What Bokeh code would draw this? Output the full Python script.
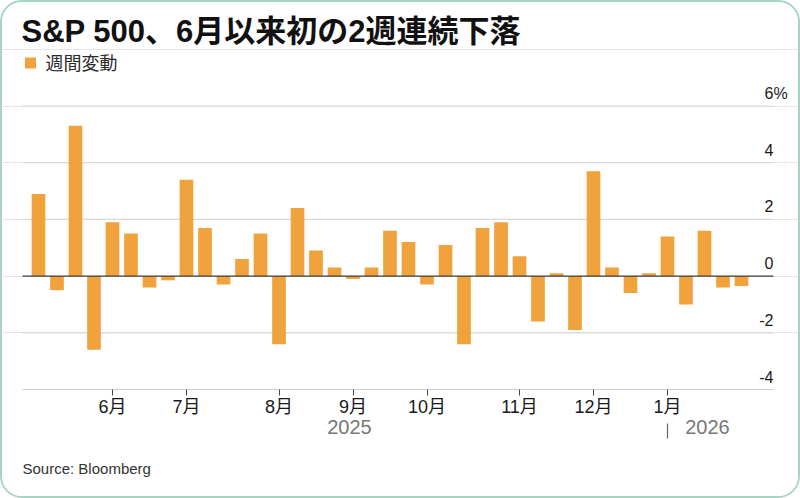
from bokeh.plotting import figure
from bokeh.models import ColumnDataSource, Range1d, FixedTicker, LinearAxis, Title
from bokeh.core.properties import value
from bokeh.embed import file_html
from bokeh.resources import INLINE

# Weekly S&P 500 change (%), weeks ending on Fridays
weeks = [
    "2025-05-02", "2025-05-09", "2025-05-16", "2025-05-23", "2025-05-30",
    "2025-06-06", "2025-06-13", "2025-06-20", "2025-06-27", "2025-07-03",
    "2025-07-11", "2025-07-18", "2025-07-25", "2025-08-01", "2025-08-08",
    "2025-08-15", "2025-08-22", "2025-08-29", "2025-09-05", "2025-09-12",
    "2025-09-19", "2025-09-26", "2025-10-03", "2025-10-10", "2025-10-17",
    "2025-10-24", "2025-10-31", "2025-11-07", "2025-11-14", "2025-11-21",
    "2025-11-28", "2025-12-05", "2025-12-12", "2025-12-19", "2025-12-26",
    "2026-01-02", "2026-01-09", "2026-01-16", "2026-01-23",
]
changes = [
    2.9, -0.5, 5.3, -2.6, 1.9,
    1.5, -0.4, -0.15, 3.4, 1.7,
    -0.3, 0.6, 1.5, -2.4, 2.4,
    0.9, 0.3, -0.1, 0.3, 1.6,
    1.2, -0.3, 1.1, -2.4, 1.7,
    1.9, 0.7, -1.6, 0.1, -1.9,
    3.7, 0.3, -0.6, 0.1, 1.4,
    -1.0, 1.6, -0.4, -0.35,
]

# Month ticks sit on these weeks
month_tick_weeks = ["2025-05-30", "2025-06-27", "2025-08-01", "2025-08-29",
                    "2025-09-26", "2025-10-31", "2025-11-28", "2025-12-26"]
month_labels = ["6月", "7月", "8月", "9月", "10月", "11月", "12月", "1月"]
year_labels = ["2025", "2026"]
year_break_week = "2025-12-26"

y_ticks = [-4, -2, 0, 2, 4, 6]
y_tick_labels = ["-4", "-2", "0", "2", "4", "6"]

title_text = "S&P 500、6月以来初の2週連続下落"
legend_text = "週間変動"
source_text = "Source: Bloomberg"

BAR = "#f0a33c"
FONT = "Liberation Sans, Noto Sans CJK JP"
GRID = "#d9d9d9"

# ---- layout, in page pixels ----
OFF = 2                       # canvas sits inside a 2px rounded border
CW, CH = 800, 498             # canvas size
PL, PR = 22, 773              # left / right ends of the plotting area
FT, FB = OFF, 389             # frame top / bottom (frame spans full width)
STEP = 18.5                   # pixels per week
FIRST = 38                    # centre of the first bar
PX_PER_PCT = 28.35

x_start = (OFF - FIRST) / STEP
x_end = (OFF + CW - FIRST) / STEP
y_start = -4
y_end = y_start + (FB - FT) / PX_PER_PCT


def dx(px):
    return x_start + (px - OFF) / STEP


def dy(py):
    return y_start + (FB - py) / PX_PER_PCT


idx = list(range(len(weeks)))
src = ColumnDataSource(dict(x=idx, week=weeks, change=changes))

p = figure(
    width=CW - 2 * OFF, height=CH - 2 * OFF,
    x_range=Range1d(x_start, x_end), y_range=Range1d(y_start, y_end),
    output_backend="svg", toolbar_location=None,
    y_axis_location=None,
    min_border_left=0, min_border_right=0, min_border_top=0,
    min_border_bottom=OFF + CH - FB,
    background_fill_color="white", border_fill_color="white",
    outline_line_color=None,
    styles={"border": f"{OFF}px solid #a6d5c3", "border-radius": "22px",
            "overflow": "hidden", "box-sizing": "content-box"},
)
p.xgrid.visible = False

# horizontal grid lines across the plotting area
grid_levels = [t for t in y_ticks if t != 0]
p.segment(x0=[dx(PL)] * len(grid_levels), x1=[dx(PR)] * len(grid_levels),
          y0=grid_levels, y1=grid_levels, line_color=GRID, line_width=1.2)

p.vbar(x="x", top="change", bottom=0, width=0.74, source=src,
       fill_color=BAR, line_color=None)

# zero line
p.segment(x0=[dx(PL)], x1=[dx(PR)], y0=[0], y1=[0], line_color="#3a3a3a", line_width=1.2)

# y tick labels, right aligned just above each grid line
LBL_UP = 13 / PX_PER_PCT
p.text(x=[dx(PR)] * len(y_ticks), y=[t + LBL_UP for t in y_ticks],
       text=y_tick_labels, text_align="right", text_baseline="alphabetic",
       text_font=value(FONT), text_font_size="16px", text_color="#1a1a1a")
p.text(x=[dx(PR)], y=[6 + LBL_UP], text=["%"], text_align="left",
       text_baseline="alphabetic", text_font=value(FONT), text_font_size="16px",
       text_color="#1a1a1a")

# title and legend
p.text(x=[dx(21)], y=[dy(31)], text=[title_text], text_align="left",
       text_baseline="middle", text_font=value(FONT), text_font_size="31px",
       text_font_style="bold", text_color="#111111")
p.scatter(x=[dx(30)], y=[dy(62.5)], marker="square", size=11,
          fill_color=BAR, line_color=None)
p.text(x=[dx(45)], y=[dy(63)], text=[legend_text], text_align="left",
       text_baseline="middle", text_font=value(FONT), text_font_size="18px",
       text_color="#2a2a2a")

# x axis: month ticks
tick_pos = [weeks.index(w) for w in month_tick_weeks]
ax = p.xaxis[0]
ax.ticker = FixedTicker(ticks=tick_pos)
ax.major_label_overrides = {t: lab for t, lab in zip(tick_pos, month_labels)}
ax.bounds = (dx(PL), dx(PR))
ax.axis_line_color = "#cfcfcf"
ax.axis_line_width = 1.2
ax.major_tick_line_color = "#444444"
ax.major_tick_out = 6
ax.major_tick_in = 0
ax.minor_tick_line_color = None
ax.major_label_text_font = FONT
ax.major_label_text_font_size = "18px"
ax.major_label_text_color = "#1a1a1a"
ax.major_label_standoff = 1

# second axis: years, with a divider at the turn of the year
year_pos = [dx(349), dx(707)]
brk = weeks.index(year_break_week)
yax = LinearAxis(
    ticker=FixedTicker(ticks=year_pos, minor_ticks=[brk]),
    major_label_overrides={t: lab for t, lab in zip(year_pos, year_labels)},
    axis_line_color=None, major_tick_line_color=None,
    major_tick_out=0, major_tick_in=0,
    minor_tick_line_color="#666666", minor_tick_out=19, minor_tick_in=-4,
    minor_tick_line_width=1.2,
    major_label_standoff=-19,
    major_label_text_font=FONT, major_label_text_font_size="20px",
    major_label_text_color="#777777",
)
p.add_layout(yax, "below")

p.add_layout(Title(text=source_text, align="left", offset=PL - OFF, standoff=43,
                   text_font=FONT, text_font_size="15px", text_font_style="normal",
                   text_color="#333333"), "below")

open("out.html", "w").write(file_html(p, INLINE))
